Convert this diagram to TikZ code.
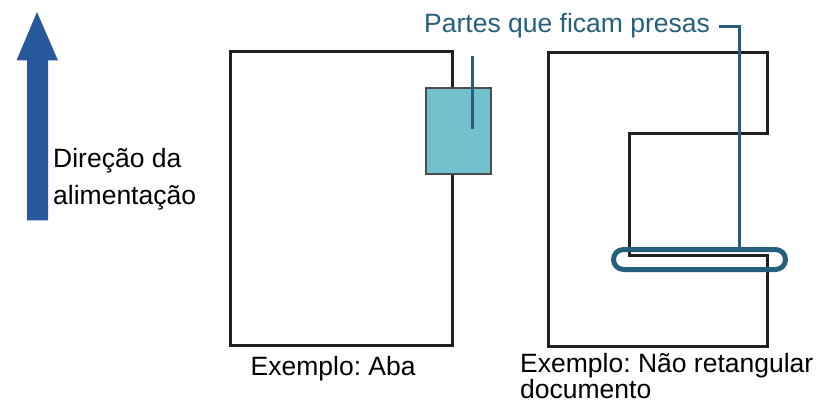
\documentclass[tikz,border=0pt]{standalone}
\usepackage{fontspec}
\setmainfont{Liberation Sans}
\frenchspacing
\definecolor{feedblue}{RGB}{40,87,155}
\definecolor{leadblue}{RGB}{38,94,126}
\definecolor{tabfill}{RGB}{116,193,206}
\definecolor{docline}{RGB}{35,31,32}
\begin{document}
\begin{tikzpicture}[x=1pt,y=-1pt,
  doc/.style={draw=docline,line width=3pt,line join=miter},
  lbl/.style={inner sep=0pt,anchor=base west,align=left,font=\fontsize{26.5}{37}\selectfont},
  lead/.style={draw=leadblue,line width=3pt},
  tabbox/.style={draw=docline!80,line width=1.3pt,fill=tabfill,inner sep=0pt,minimum width=65pt,minimum height=86pt},
  pill/.style={draw=leadblue,line width=5pt,rounded corners=10pt,inner sep=0pt,minimum width=172pt,minimum height=20pt}]
\useasboundingbox (0,0) rectangle (818,403);
% feed direction arrow
\fill[feedblue] (37,12) -- (58,60.5) -- (48,60.5) -- (48,220.5) -- (27,220.5) -- (27,60.5) -- (16.5,60.5) -- cycle;
\node[lbl] (feed) at (53,205) {Direção da\\alimentação};
% left document with tab
\node[doc,inner sep=0pt,minimum width=222pt,minimum height=293pt] (docA) at (341,198.5) {};
\node[tabbox] (tab) at (458.5,131) {};
\coordinate (leadAtop) at (472,56);
\coordinate (leadAbot) at (472,129);
\draw[lead] (leadAtop) -- (leadAbot);
\node[lbl] (capA) at (250.5,375) {Exemplo: Aba};
% right non-rectangular document
\draw[doc] (548,53) -- (767,53) -- (767,134) -- (629,134) -- (629,255) -- (767,255) -- (767,346) -- (548,346) -- cycle;
\node[pill] (clamp) at (699.5,259.5) {};
\node[lbl] (capB) at (520,398) {Exemplo: Não retangular\\[-11pt]documento};
% label and leader
\node[lbl,text=leadblue,font=\fontsize{26.5}{30}\selectfont] (parts) at (424,33) {Partes que ficam presas};
\coordinate (leadx) at (739,0);
\draw[lead] ([xshift=9pt]parts.east) -| (clamp.north -| leadx);
\end{tikzpicture}
\end{document}
